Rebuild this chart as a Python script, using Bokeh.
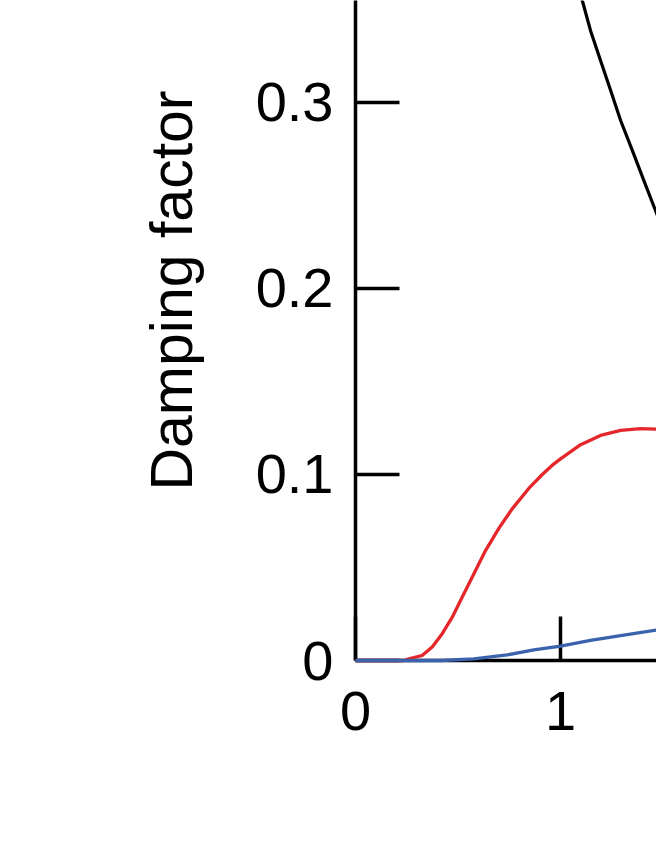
from bokeh.plotting import figure
from bokeh.models import Range1d, FixedTicker, Title
from bokeh.embed import file_html
from bokeh.resources import INLINE

# --- data ---
black_x = [1.09, 1.106, 1.146, 1.195, 1.244, 1.293, 1.350, 1.406, 1.463, 1.507]
black_y = [0.362, 0.3548, 0.3387, 0.3226, 0.3065, 0.2903, 0.2742, 0.2581, 0.2419, 0.2294]

red_x = [0.0, 0.235, 0.260, 0.325, 0.374, 0.423, 0.472, 0.520, 0.569, 0.634, 0.699,
         0.764, 0.845, 0.911, 0.960, 1.0, 1.098, 1.195, 1.293, 1.390, 1.507]
red_y = [0.0, 0.0, 0.0009, 0.0027, 0.0072, 0.0144, 0.0233, 0.0340, 0.0448, 0.0591, 0.0710,
         0.0815, 0.0925, 0.1000, 0.1050, 0.1084, 0.1160, 0.1210, 0.1237, 0.1246, 0.1242]

blue_x = [0.0, 0.415, 0.577, 0.740, 0.870, 1.0, 1.146, 1.293, 1.507]
blue_y = [0.0, 0.0, 0.0009, 0.0030, 0.0057, 0.0077, 0.0108, 0.0134, 0.0170]

x_ticks = [0, 1]
x_tick_labels = {0: "0", 1: "1"}
y_ticks = [0, 0.1, 0.2, 0.3]
y_tick_labels = {0: "0", 0.1: "0.1", 0.2: "0.2", 0.3: "0.3"}
y_label = "Damping factor"

FONT = "Liberation Sans"

p = figure(width=656, height=852, output_backend="svg", toolbar_location=None,
           x_range=Range1d(0, 1.468), y_range=Range1d(0, 0.3548),
           min_border_left=355, min_border_right=0, min_border_top=0, min_border_bottom=192)
p.outline_line_color = None
p.grid.visible = False
p.background_fill_color = "white"
p.border_fill_color = "white"

for ax in (p.xaxis[0], p.yaxis[0]):
    ax.axis_line_width = 3.5
    ax.axis_line_color = "black"
    ax.major_tick_line_width = 3.5
    ax.major_tick_line_color = "black"
    ax.major_tick_in = 44
    ax.major_tick_out = 0
    ax.minor_tick_line_color = None
    ax.major_label_text_font = FONT
    ax.major_label_text_font_size = "56px"
    ax.major_label_text_color = "black"

p.xaxis.ticker = FixedTicker(ticks=x_ticks)
p.yaxis.ticker = FixedTicker(ticks=y_ticks)
p.yaxis.major_label_overrides = y_tick_labels
p.xaxis.major_label_overrides = x_tick_labels
p.xaxis.major_label_standoff = 31
p.yaxis.major_label_standoff = 22

p.line(black_x, black_y, line_color="black", line_width=3.2)
r1 = p.line(red_x, red_y, line_color="#e5262a", line_width=3.3)
r2 = p.line(blue_x, blue_y, line_color="#3a62ad", line_width=3.3)
r1.level = "overlay"
r2.level = "overlay"

ttl = Title(text=y_label, align="right", vertical_align="bottom", offset=90,
            standoff=96, text_font=FONT, text_font_size="59px",
            text_font_style="normal", text_color="black")
p.add_layout(ttl, "left")

open("out.html", "w").write(file_html(p, INLINE))
